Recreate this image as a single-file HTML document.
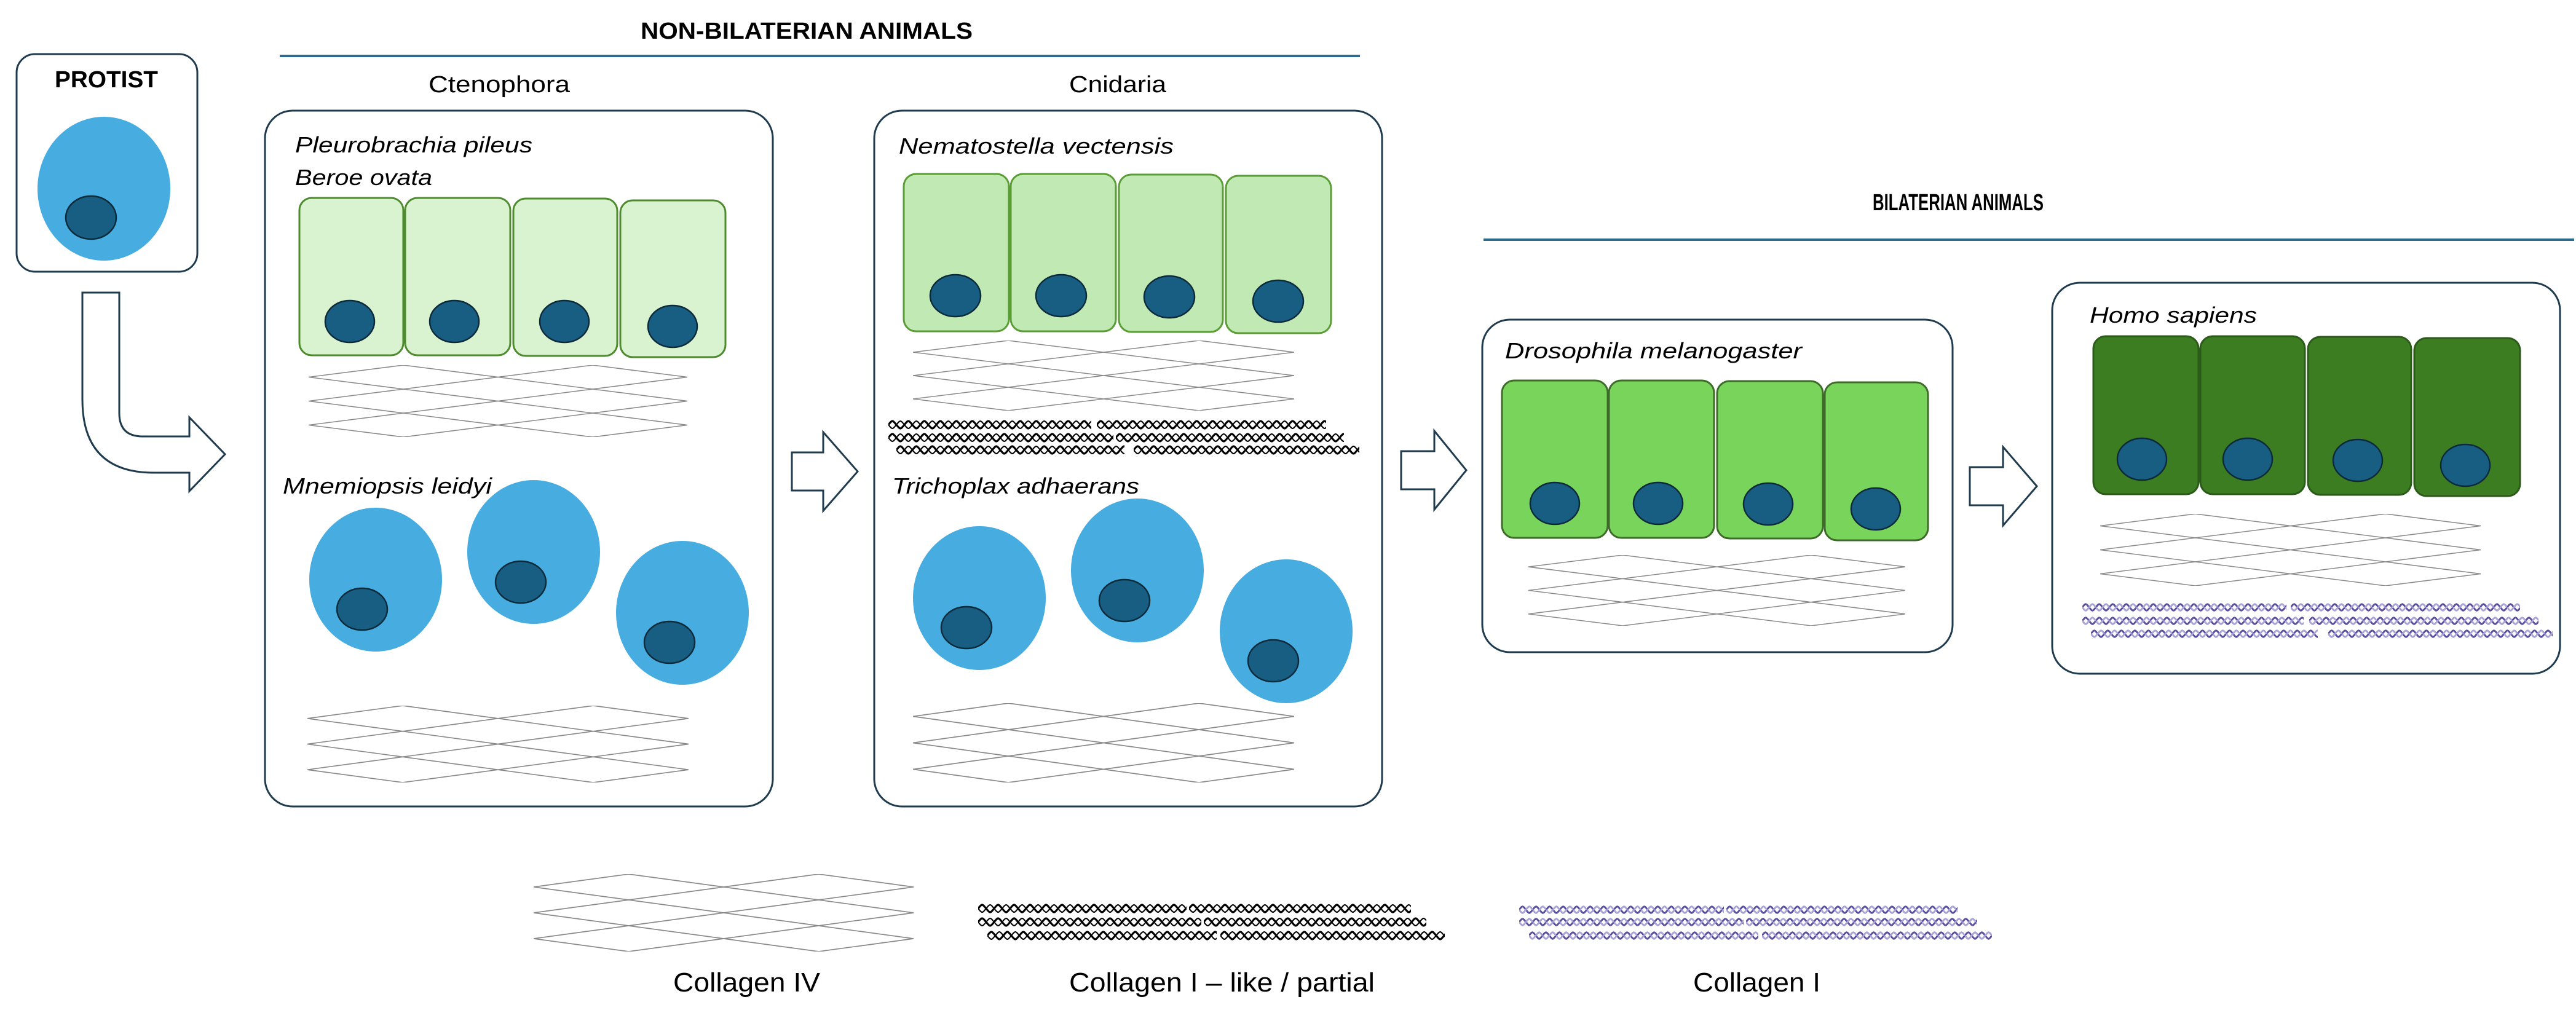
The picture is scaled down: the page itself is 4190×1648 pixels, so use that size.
<!DOCTYPE html>
<html><head><meta charset="utf-8"><style>
html,body{margin:0;padding:0;background:#fff}
svg{display:block}
text{font-family:"Liberation Sans",sans-serif;fill:#000}
.it{font-style:italic;font-size:36px}
.box{fill:#fff;stroke:#1f3b4d;stroke-width:3}
.arr{fill:#fff;stroke:#1f3b4d;stroke-width:3;stroke-linejoin:miter}
.blue{fill:#47ace0}
.nuc{fill:#175e82;stroke:#0d2a3a;stroke-width:2.5}
.g1{fill:#d9f2d0;stroke:#4e8a2e;stroke-width:3}
.g2{fill:#c1e9b3;stroke:#5a9d34;stroke-width:3}
.g3{fill:#78d45b;stroke:#3e6b2a;stroke-width:3}
.g4{fill:#3c7d22;stroke:#2c5a1a;stroke-width:3}
</style></head><body>
<svg width="4190" height="1648" viewBox="0 0 4190 1648" xmlns="http://www.w3.org/2000/svg">
<defs>
<symbol id="mesh" viewBox="0 0 620 120" preserveAspectRatio="none">
<g fill="none" stroke="#8a8a8a" stroke-width="1.6" vector-effect="non-scaling-stroke">
<path d="M0,20 L155,0 L310,20 L155,40 Z M310,20 L465,0 L620,20 L465,40 Z"/>
<path d="M0,60 L155,40 L310,60 L155,80 Z M310,60 L465,40 L620,60 L465,80 Z"/>
<path d="M0,100 L155,80 L310,100 L155,120 Z M310,100 L465,80 L620,100 L465,120 Z"/>
</g>
</symbol>
<pattern id="hxb" patternUnits="userSpaceOnUse" x="0" y="0" width="26" height="20">
<path d="M0,10 C6.5,2 6.5,2 13,10 S19.5,18 26,10" fill="none" stroke="#000" stroke-width="3.2"/>
<path d="M0,10 C6.5,18 6.5,18 13,10 S19.5,2 26,10" fill="none" stroke="#000" stroke-width="2"/>
</pattern>
<pattern id="hxp" patternUnits="userSpaceOnUse" x="0" y="0" width="22" height="18">
<path d="M0,9 C5.5,2 5.5,2 11,9 S16.5,16 22,9" fill="none" stroke="#5b4fa0" stroke-width="3"/>
<path d="M0,9 C5.5,16 5.5,16 11,9 S16.5,2 22,9" fill="none" stroke="#a9a3d6" stroke-width="3"/>
</pattern>
</defs>

<!-- Titles -->
<text x="1042" y="63" font-size="38" font-weight="bold" textLength="540" lengthAdjust="spacingAndGlyphs">NON-BILATERIAN ANIMALS</text>
<rect x="455" y="89" width="1757" height="4" fill="#2e6a8e"/>
<text x="697" y="150" font-size="38" textLength="230" lengthAdjust="spacingAndGlyphs">Ctenophora</text>
<text x="1739" y="150" font-size="38" textLength="158" lengthAdjust="spacingAndGlyphs">Cnidaria</text>
<text x="3046" y="342" font-size="38" font-weight="bold" textLength="278" lengthAdjust="spacingAndGlyphs">BILATERIAN ANIMALS</text>
<rect x="2413" y="388" width="1774" height="4" fill="#2e6a8e"/>

<!-- Protist -->
<rect class="box" x="27" y="88" width="294" height="354" rx="30"/>
<text x="89" y="142" font-size="38" font-weight="bold" textLength="168" lengthAdjust="spacingAndGlyphs">PROTIST</text>
<ellipse class="blue" cx="169" cy="307" rx="108" ry="117"/>
<ellipse class="nuc" cx="148" cy="354" rx="41" ry="35"/>

<path class="arr" d="M134,476 H194 V672 Q194,710 232,710 H308 V679 L366,739 L308,799 V769 H250 Q134,769 134,650 Z"/>

<!-- Ctenophora box -->
<rect class="box" x="431" y="180" width="826" height="1132" rx="45"/>
<text class="it" x="480" y="248" textLength="386" lengthAdjust="spacingAndGlyphs">Pleurobrachia pileus</text>
<text class="it" x="480" y="301" textLength="223" lengthAdjust="spacingAndGlyphs">Beroe ovata</text>
<rect class="g1" x="487" y="322" width="169" height="256" rx="20"/>
<rect class="g1" x="659" y="322" width="171" height="256" rx="20"/>
<rect class="g1" x="835" y="323" width="169" height="256" rx="20"/>
<rect class="g1" x="1009" y="326" width="171" height="255" rx="20"/>
<ellipse class="nuc" cx="569" cy="523" rx="40" ry="34"/>
<ellipse class="nuc" cx="739" cy="523" rx="40" ry="34"/>
<ellipse class="nuc" cx="918" cy="523" rx="40" ry="34"/>
<ellipse class="nuc" cx="1094" cy="531" rx="40" ry="34"/>
<use href="#mesh" x="502" y="594" width="616" height="117"/>
<text class="it" x="460" y="803" textLength="340" lengthAdjust="spacingAndGlyphs">Mnemiopsis leidyi</text>
<ellipse class="blue" cx="611" cy="943" rx="108" ry="117"/>
<ellipse class="nuc" cx="589" cy="991" rx="41" ry="34"/>
<ellipse class="blue" cx="868" cy="898" rx="108" ry="117"/>
<ellipse class="nuc" cx="847" cy="947" rx="41" ry="34"/>
<ellipse class="blue" cx="1110" cy="997" rx="108" ry="117"/>
<ellipse class="nuc" cx="1089" cy="1045" rx="41" ry="34"/>
<use href="#mesh" x="500" y="1148" width="620" height="125"/>

<path class="arr" d="M1288,736 H1339 V703 L1395,767 L1339,831 V798 H1288 Z"/>

<!-- Cnidaria box -->
<rect class="box" x="1422" y="180" width="826" height="1132" rx="45"/>
<text class="it" x="1462" y="250" textLength="447" lengthAdjust="spacingAndGlyphs">Nematostella vectensis</text>
<rect class="g2" x="1470" y="283" width="171" height="256" rx="20"/>
<rect class="g2" x="1644" y="283" width="171" height="256" rx="20"/>
<rect class="g2" x="1820" y="284" width="169" height="256" rx="20"/>
<rect class="g2" x="1994" y="286" width="171" height="256" rx="20"/>
<ellipse class="nuc" cx="1554" cy="481" rx="41" ry="34"/>
<ellipse class="nuc" cx="1726" cy="481" rx="41" ry="34"/>
<ellipse class="nuc" cx="1902" cy="483" rx="41" ry="34"/>
<ellipse class="nuc" cx="2079" cy="490" rx="41" ry="34"/>
<use href="#mesh" x="1485" y="554" width="620" height="114"/>
<g transform="translate(1445,681)"><rect width="330" height="20" fill="url(#hxb)"/></g>
<g transform="translate(1784,681)"><rect width="373" height="20" fill="url(#hxb)"/></g>
<g transform="translate(1445,702)"><rect width="366" height="20" fill="url(#hxb)"/></g>
<g transform="translate(1815,702)"><rect width="371" height="20" fill="url(#hxb)"/></g>
<g transform="translate(1458,722)"><rect width="371" height="20" fill="url(#hxb)"/></g>
<g transform="translate(1844,722)"><rect width="367" height="20" fill="url(#hxb)"/></g>
<text class="it" x="1451" y="803" textLength="402" lengthAdjust="spacingAndGlyphs">Trichoplax adhaerans</text>
<ellipse class="blue" cx="1593" cy="973" rx="108" ry="117"/>
<ellipse class="nuc" cx="1572" cy="1021" rx="41" ry="34"/>
<ellipse class="blue" cx="1850" cy="928" rx="108" ry="117"/>
<ellipse class="nuc" cx="1829" cy="977" rx="41" ry="34"/>
<ellipse class="blue" cx="2092" cy="1027" rx="108" ry="117"/>
<ellipse class="nuc" cx="2071" cy="1075" rx="41" ry="34"/>
<use href="#mesh" x="1485" y="1144" width="620" height="129"/>

<path class="arr" d="M2279,734 H2333 V701 L2385,765 L2333,829 V796 H2279 Z"/>

<!-- Drosophila box -->
<rect class="box" x="2411" y="520" width="765" height="541" rx="45"/>
<text class="it" x="2448" y="583" textLength="483" lengthAdjust="spacingAndGlyphs">Drosophila melanogaster</text>
<rect class="g3" x="2443" y="619" width="172" height="256" rx="20"/>
<rect class="g3" x="2617" y="619" width="171" height="256" rx="20"/>
<rect class="g3" x="2793" y="620" width="172" height="256" rx="20"/>
<rect class="g3" x="2968" y="622" width="168" height="257" rx="20"/>
<ellipse class="nuc" cx="2529" cy="819" rx="40" ry="34"/>
<ellipse class="nuc" cx="2697" cy="819" rx="40" ry="34"/>
<ellipse class="nuc" cx="2876" cy="820" rx="40" ry="34"/>
<ellipse class="nuc" cx="3051" cy="828" rx="40" ry="34"/>
<use href="#mesh" x="2486" y="903" width="613" height="115"/>

<path class="arr" d="M3204,760 H3258 V727 L3313,791 L3258,855 V822 H3204 Z"/>

<!-- Homo box -->
<rect class="box" x="3338" y="460" width="826" height="636" rx="45"/>
<text class="it" x="3399" y="525" textLength="272" lengthAdjust="spacingAndGlyphs">Homo sapiens</text>
<rect class="g4" x="3405" y="547" width="171" height="257" rx="20"/>
<rect class="g4" x="3579" y="547" width="170" height="257" rx="20"/>
<rect class="g4" x="3754" y="548" width="168" height="257" rx="20"/>
<rect class="g4" x="3927" y="550" width="172" height="257" rx="20"/>
<ellipse class="nuc" cx="3484" cy="747" rx="40" ry="34"/>
<ellipse class="nuc" cx="3656" cy="747" rx="40" ry="34"/>
<ellipse class="nuc" cx="3835" cy="749" rx="40" ry="34"/>
<ellipse class="nuc" cx="4010" cy="757" rx="40" ry="34"/>
<use href="#mesh" x="3416" y="836" width="619" height="117"/>
<g transform="translate(3387,979)"><rect width="332" height="18" fill="url(#hxp)"/></g>
<g transform="translate(3726,979)"><rect width="373" height="18" fill="url(#hxp)"/></g>
<g transform="translate(3387,1001)"><rect width="360" height="18" fill="url(#hxp)"/></g>
<g transform="translate(3756,1001)"><rect width="373" height="18" fill="url(#hxp)"/></g>
<g transform="translate(3401,1022)"><rect width="369" height="18" fill="url(#hxp)"/></g>
<g transform="translate(3787,1022)"><rect width="365" height="18" fill="url(#hxp)"/></g>

<!-- Legend -->
<use href="#mesh" x="868" y="1422" width="618" height="126"/>
<g transform="translate(1591,1468)"><rect width="339" height="20" fill="url(#hxb)"/></g>
<g transform="translate(1934,1468)"><rect width="361" height="20" fill="url(#hxb)"/></g>
<g transform="translate(1591,1490)"><rect width="363" height="20" fill="url(#hxb)"/></g>
<g transform="translate(1958,1490)"><rect width="362" height="20" fill="url(#hxb)"/></g>
<g transform="translate(1606,1512)"><rect width="373" height="20" fill="url(#hxb)"/></g>
<g transform="translate(1985,1512)"><rect width="365" height="20" fill="url(#hxb)"/></g>
<g transform="translate(2471,1471)"><rect width="333" height="18" fill="url(#hxp)"/></g>
<g transform="translate(2808,1471)"><rect width="376" height="18" fill="url(#hxp)"/></g>
<g transform="translate(2471,1491)"><rect width="365" height="18" fill="url(#hxp)"/></g>
<g transform="translate(2840,1491)"><rect width="376" height="18" fill="url(#hxp)"/></g>
<g transform="translate(2487,1513)"><rect width="373" height="18" fill="url(#hxp)"/></g>
<g transform="translate(2866,1513)"><rect width="374" height="18" fill="url(#hxp)"/></g>
<text x="1095" y="1613" font-size="44" textLength="239" lengthAdjust="spacingAndGlyphs">Collagen IV</text>
<text x="1739" y="1613" font-size="44" textLength="497" lengthAdjust="spacingAndGlyphs">Collagen I – like / partial</text>
<text x="2754" y="1613" font-size="44" textLength="207" lengthAdjust="spacingAndGlyphs">Collagen I</text>
</svg>
</body></html>
